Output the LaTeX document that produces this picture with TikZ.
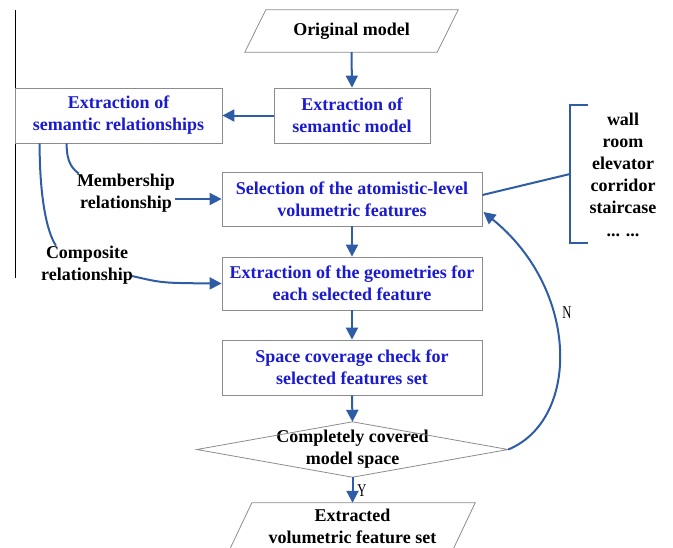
\documentclass[tikz,border=0pt]{standalone}
\usepackage{fontspec}
\setmainfont{Liberation Serif}
\usetikzlibrary{arrows.meta,calc}
\definecolor{arr}{HTML}{2E5DA6}
\definecolor{txtblue}{HTML}{1A1AD0}
\definecolor{boxgray}{HTML}{8C8C8C}
\begin{document}
\begin{tikzpicture}[x=1pt,y=-1pt,
  box/.style={draw=boxgray, line width=0.8pt, align=center, inner sep=0pt,
    font=\bfseries\fontsize{18}{22}\selectfont, text=txtblue},
  plain/.style={align=center, inner sep=0pt, font=\bfseries\fontsize{18}{22}\selectfont},
  shapeline/.style={draw=boxgray, line width=0.8pt},
  conn/.style={draw=arr, line width=2pt, -{Triangle[length=12pt,width=12pt]}},
  cline/.style={draw=arr, line width=2pt},
  yn/.style={font=\fontsize{18}{20}\selectfont, xscale=0.7, inner sep=0pt}]
\useasboundingbox (0,0) rectangle (673,547);

% left vertical line
\draw[line width=0.8pt] (15,10) coordinate (vtop) -- (15,278) coordinate (vbot);

% original model
\node[plain, minimum width=213pt, minimum height=42pt] (orig) at (351.5,31) {Original model};
\draw[shapeline] (orig.south west) -- ([xshift=21pt]orig.north west) -- (orig.north east) -- ([xshift=-21pt]orig.south east) -- cycle;

% boxes
\node[box, minimum width=156pt, minimum height=55pt] (esm) at (352,115.5) {Extraction of\\semantic model};
\node[box, minimum width=207pt, minimum height=55pt] (esr) at (118.5,115.5) {Extraction of\\semantic relationships};
\node[box, minimum width=260pt, minimum height=54pt] (sel) at (352,199) {Selection of the atomistic-level\\volumetric features};
\node[box, minimum width=260pt, minimum height=53pt] (geo) at (352,283.5) {Extraction of the geometries for\\each selected feature};
\node[box, minimum width=260pt, minimum height=55pt] (spc) at (352,367.5) {Space coverage check for\\selected features set};

% decision diamond
\node[plain, minimum width=311pt, minimum height=55pt] (dec) at (352.5,449.5) {Completely covered\\model space};
\draw[shapeline] (dec.west) -- (dec.north) -- (dec.east) -- (dec.south) -- cycle;

% output
\node[plain, minimum width=245pt, minimum height=46pt] (out) at (352.5,526) {Extracted\\volumetric feature set};
\draw[shapeline] (out.south west) -- ([xshift=22pt]out.north west) -- (out.north east) -- ([xshift=-22pt]out.south east) -- cycle;

% relationship labels
\node[plain] (mem) at (126,193) {Membership\\relationship};
\node[plain] (comp) at (87,265) {Composite\\relationship};

% list
\node[plain, font=\bfseries\fontsize{18}{22.2}\selectfont] (list) at (623,174.5) {wall\\room\\elevator\\corridor\\staircase\\... ...};

% connectors
\draw[conn] (orig.south) -- (esm.north);
\draw[conn] (esm.west) -- (esr.east);
\draw[conn] (sel.south) -- (geo.north);
\draw[conn] (geo.south) -- (spc.north);
\draw[conn] (spc.south) -- (dec.north);
\draw[conn] (dec.south) -- (out.north);
\node[yn] (ylab) at (362,491) {Y};

\draw[cline] ($(esr.south west)+(52,0)$) .. controls +(0,20) and +(-6,-5) .. ($(mem.north west)+(2,0)$);
\draw[cline] ($(esr.south west)+(25,0)$) .. controls +(0,50) and +(-10,-15) .. ($(comp.north west)+(15,0)$);
\draw[conn] (mem.east |- sel.west) -- (sel.west);
\draw[conn] ($(comp.east)+(-1,11)$) .. controls +(30,7) .. (geo.west);

% bracket
\coordinate (bt) at (588,105);
\coordinate (bb) at (588,243);
\coordinate (bm) at (570,174);
\draw[cline] (bt) -- (570,105) -- (570,243) -- (bb);
\draw[cline] ($(sel.east)+(0,-4)$) -- (bm);

% N loop
\draw[conn] (dec.east) .. controls (580,420) and (580,290) .. ($(sel.east)+(1,13)$);
\node[yn] (nlab) at (567,313) {N};
\end{tikzpicture}
\end{document}
